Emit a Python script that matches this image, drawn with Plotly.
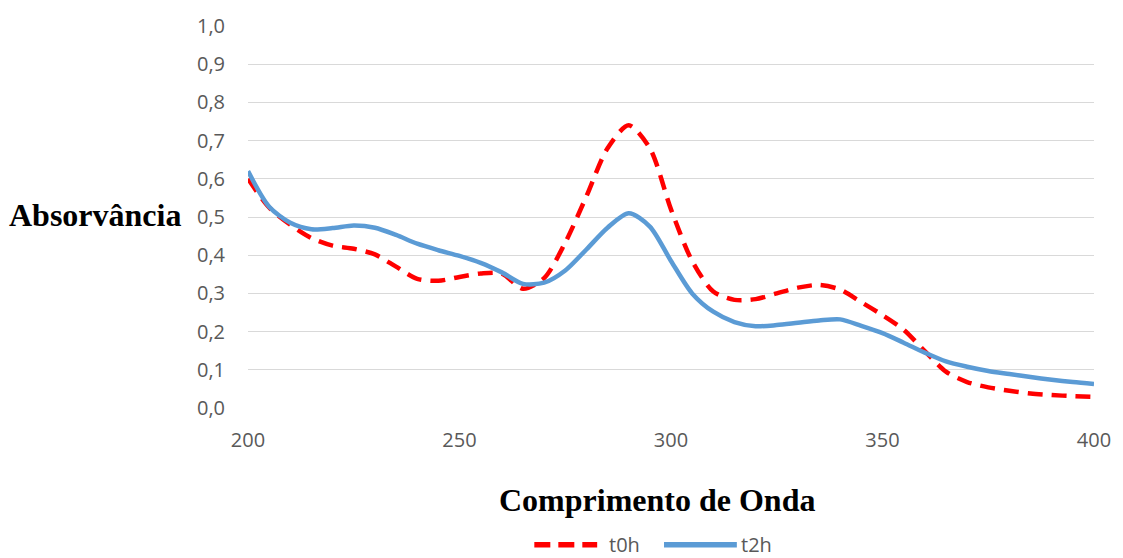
import plotly.graph_objects as go

wavelength = [200, 205, 210, 215, 220, 225, 230, 235, 240, 245, 250, 255, 260, 265, 270,
              275, 280, 285, 290, 295, 300, 305, 310, 315, 320, 325, 330, 335, 340, 345,
              350, 355, 360, 365, 370, 375, 380, 385, 390, 395, 400]

t0h = [0.600, 0.525, 0.480, 0.445, 0.425, 0.417, 0.402, 0.370, 0.338, 0.333, 0.343, 0.352,
       0.352, 0.312, 0.340, 0.433, 0.554, 0.680, 0.740, 0.680, 0.520, 0.385, 0.305, 0.283,
       0.285, 0.300, 0.315, 0.322, 0.310, 0.277, 0.243, 0.205, 0.149, 0.095, 0.068, 0.054,
       0.045, 0.038, 0.034, 0.031, 0.029]

t2h = [0.620, 0.527, 0.485, 0.468, 0.471, 0.478, 0.472, 0.453, 0.430, 0.413, 0.398, 0.380,
       0.355, 0.325, 0.328, 0.360, 0.415, 0.472, 0.510, 0.475, 0.385, 0.300, 0.252, 0.225,
       0.214, 0.217, 0.223, 0.229, 0.232, 0.215, 0.196, 0.171, 0.145, 0.122, 0.108, 0.097,
       0.089, 0.081, 0.074, 0.068, 0.063]

series_names = ["t0h", "t2h"]
series_colors = ["#ff0000", "#5b9bd5"]
x_title = "Comprimento de Onda"
y_title = "Absorvância"

fig = go.Figure()
fig.add_trace(go.Scatter(
    x=wavelength, y=t0h, name=series_names[0], mode="lines", showlegend=False,
    line=dict(color=series_colors[0], width=4.5, dash="15px,9px", shape="spline", smoothing=0.8),
))
fig.add_trace(go.Scatter(
    x=wavelength, y=t2h, name=series_names[1], mode="lines", showlegend=False,
    line=dict(color=series_colors[1], width=4.5, shape="spline", smoothing=0.8),
))

tick_font = dict(family="Open Sans", size=20, color="#595959")

# plot area in pixels: left 248, right 1096, top 20, bottom 408
PL, PR, PT, PB = 248, 1096, 20, 408


def px_x(px):
    return (px - PL) / (PR - PL)


def px_y(py):
    return (PB - py) / (PB - PT)


leg_y = px_y(547)
shapes = [
    dict(type="line", xref="paper", yref="paper", x0=px_x(535), x1=px_x(598), y0=leg_y, y1=leg_y,
         line=dict(color=series_colors[0], width=5.5, dash="16px,8px")),
    dict(type="line", xref="paper", yref="paper", x0=px_x(665), x1=px_x(738), y0=leg_y, y1=leg_y,
         line=dict(color=series_colors[1], width=5.5)),
]

annotations = [
    dict(text="<b>" + y_title + "</b>", xref="paper", yref="paper",
         x=0, xshift=-65, xanchor="right", y=0.5, yshift=2, yanchor="middle", showarrow=False,
         font=dict(family="Liberation Serif", size=32, color="black")),
    dict(text="<b>" + x_title + "</b>", xref="paper", yref="paper",
         x=0.5, xshift=-14, xanchor="center", y=0, yshift=-92, yanchor="middle",
         showarrow=False,
         font=dict(family="Liberation Serif", size=32, color="black")),
    dict(text=series_names[0], xref="paper", yref="paper", x=px_x(608), xanchor="left",
         y=leg_y, yanchor="middle", showarrow=False,
         font=dict(family="Open Sans", size=20, color="#595959")),
    dict(text=series_names[1], xref="paper", yref="paper", x=px_x(740), xanchor="left",
         y=leg_y, yanchor="middle", showarrow=False,
         font=dict(family="Open Sans", size=20, color="#595959")),
]

fig.update_layout(
    width=1123, height=558,
    margin=dict(l=PL, r=1123 - PR, t=PT, b=558 - PB),
    paper_bgcolor="white", plot_bgcolor="white",
    separators=",.",
    showlegend=False,
    xaxis=dict(range=[200, 400], dtick=50, tick0=200, showgrid=False, zeroline=False,
               showline=False, ticks="outside", ticklen=14, tickcolor="rgba(0,0,0,0)",
               tickfont=tick_font),
    yaxis=dict(range=[0, 1.0], dtick=0.1, tick0=0, tickformat=".1f",
               showgrid=True, gridcolor="#d9d9d9", gridwidth=1.3,
               zeroline=False, showline=False,
               ticks="outside", ticklen=18, tickcolor="rgba(0,0,0,0)",
               tickfont=tick_font),
    shapes=shapes,
    annotations=annotations,
)

fig.write_html("out.html")
